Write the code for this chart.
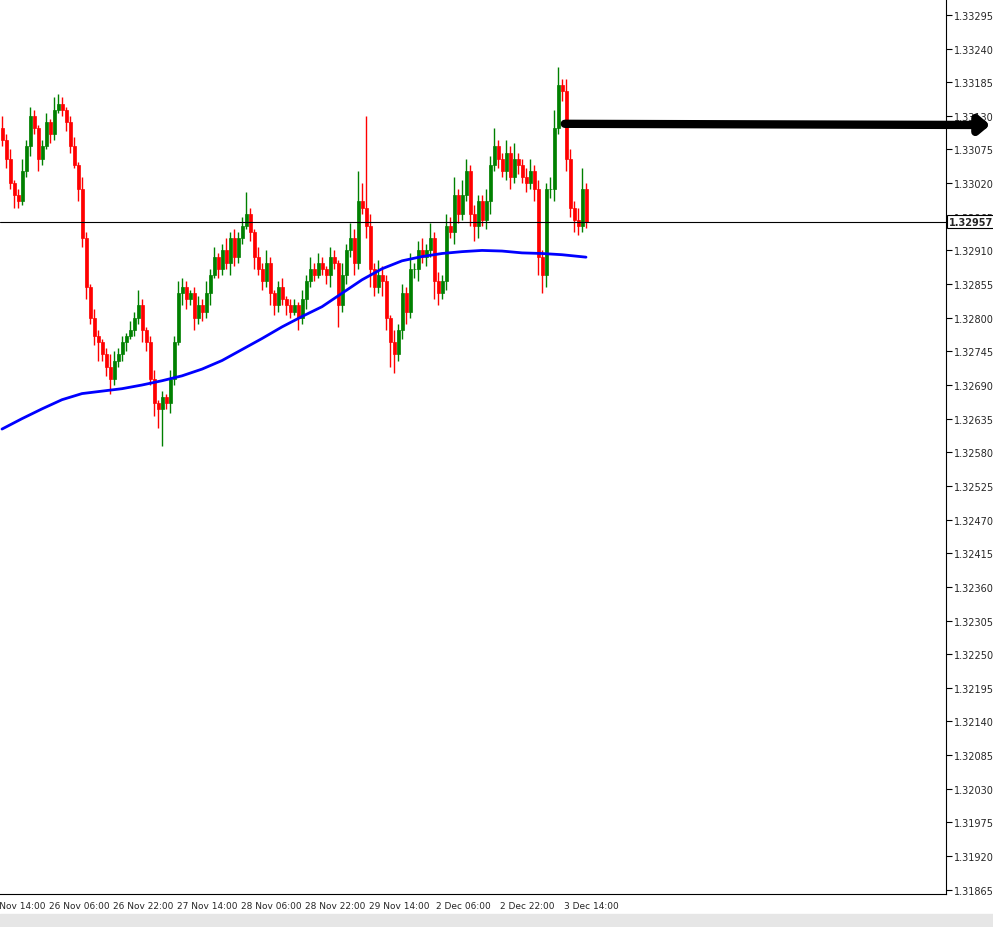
import numpy as np, pandas as pd, seaborn as sns, matplotlib
matplotlib.use("Agg")
import matplotlib.pyplot as plt

closes = [1.33090,1.33060,1.33020,1.33000,1.32990,1.33040,1.33080,1.33130,1.33110,1.33060,
1.33080,1.33120,1.33100,1.33140,1.33150,1.33140,1.33120,1.33080,1.33050,1.33010,
1.32930,1.32850,1.32800,1.32770,1.32760,1.32740,1.32720,1.32700,1.32730,1.32740,
1.32760,1.32770,1.32780,1.32800,1.32820,1.32780,1.32760,1.32700,1.32660,1.32650,
1.32670,1.32660,1.32700,1.32760,1.32840,1.32850,1.32830,1.32840,1.32800,1.32820,
1.32810,1.32840,1.32870,1.32900,1.32880,1.32910,1.32890,1.32930,1.32900,1.32930,
1.32950,1.32970,1.32940,1.32900,1.32880,1.32860,1.32890,1.32840,1.32820,1.32850,
1.32830,1.32820,1.32810,1.32820,1.32800,1.32830,1.32860,1.32880,1.32870,1.32890,
1.32880,1.32870,1.32900,1.32890,1.32820,1.32870,1.32910,1.32930,1.32890,1.32990,
1.32980,1.32950,1.32880,1.32850,1.32870,1.32860,1.32800,1.32760,1.32740,1.32780,
1.32840,1.32810,1.32880,1.32880,1.32910,1.32900,1.32910,1.32930,1.32860,1.32840,
1.32860,1.32950,1.32940,1.33000,1.32970,1.33000,1.33040,1.32970,1.32950,1.32990,
1.32960,1.32990,1.33050,1.33080,1.33060,1.33040,1.33070,1.33030,1.33060,1.33050,
1.33030,1.33020,1.33040,1.33010,1.32900,1.32870,1.33010,1.33010,1.33110,1.33180,
1.33170,1.33060,1.32980,1.32960,1.32950,1.33010,1.32957]
open0 = 1.33110
# wick extents in points (1e-5)
wick_up = [20,10,15,5,10,20,10,15,10,5, 10,15,5,20,15,10,5,10,15,5, 20,10,5,15,10,5,10,20,15,10,
 10,5,15,10,25,10,5,10,15,5, 10,5,15,10,20,15,10,5,10,15, 10,20,10,15,5,10,20,10,15,10,
 15,35,10,5,15,10,20,10,5,10, 15,5,10,10,5,15,10,20,10,15, 10,5,15,10,5,20,10,25,15,50,
 30,150,20,10,25,15,10,5,20,10, 15,10,25,10,15,20,10,25,10,15, 10,20,15,30,10,25,20,10,15,10,
 10,20,15,30,10,10,20,10,25,10, 10,15,20,10,15,10,10,20,30,30, 10,20,15,10,20,35,10]
wick_dn = [10,15,10,20,10,5,10,15,10,20, 10,5,15,10,5,10,15,10,5,20, 15,20,10,15,30,10,15,25,10,10,
 10,15,5,10,10,20,15,10,20,30, 60,10,15,10,5,20,15,10,20,10, 15,10,20,5,15,10,10,20,15,10,
 10,5,15,20,10,15,10,20,15,10, 10,15,10,5,20,10,15,10,10,5, 10,15,20,10,35,10,15,10,20,10,
 10,20,30,15,10,25,20,40,30,10, 15,20,10,15,20,10,15,10,30,20, 10,15,10,20,15,10,10,20,25,20,
 10,15,20,10,15,10,15,20,10,15, 10,15,10,20,30,30,20,15,20,10, 15,20,15,20,15,10,10]
ma_idx = [0,5,10,15,20,25,30,35,40,45,50,55,60,65,70,75,80,85,90,95,100,105,110,115,120,125,130,135,140,146]
ma_val = [1.32618,1.32635,1.32651,1.32666,1.32676,1.32680,1.32684,1.32690,1.32697,1.32705,
          1.32716,1.32730,1.32748,1.32766,1.32785,1.32802,1.32818,1.32840,1.32862,1.32880,
          1.32893,1.32900,1.32905,1.32908,1.32910,1.32909,1.32906,1.32905,1.32903,1.32899]
ytick_vals = [1.33295,1.33240,1.33185,1.33130,1.33075,1.33020,1.32965,1.32910,1.32855,1.32800,
 1.32745,1.32690,1.32635,1.32580,1.32525,1.32470,1.32415,1.32360,1.32305,1.32250,1.32195,
 1.32140,1.32085,1.32030,1.31975,1.31920,1.31865]
xtick_labels = ["25 Nov 14:00","26 Nov 06:00","26 Nov 22:00","27 Nov 14:00","28 Nov 06:00",
 "28 Nov 22:00","29 Nov 14:00","2 Dec 06:00","2 Dec 22:00","3 Dec 14:00"]
current = 1.32957
arrow_price = 1.33115

n = len(closes)
opens = [open0] + closes[:-1]
df = pd.DataFrame({"i": np.arange(n), "o": opens, "c": closes})
df["h"] = df[["o","c"]].max(axis=1) + np.array(wick_up[:n])*1e-5
df["l"] = df[["o","c"]].min(axis=1) - np.array(wick_dn[:n])*1e-5
df["col"] = np.where(df.c >= df.o, "#008000", "#ff0000")

sns.set_style("white")
fig = plt.figure(figsize=(9.93, 9.28), dpi=100)
ax = fig.add_axes([0, 1-895/928, 946/993, 895/928])
ax.vlines(df.i, df.l, df.h, colors=df.col, lw=1)
ax.bar(df.i, (df.c-df.o).abs().clip(lower=1e-6), bottom=df[["o","c"]].min(axis=1),
       width=0.75, color=df.col, edgecolor=df.col, lw=0.5)
sns.lineplot(x=ma_idx, y=ma_val, ax=ax, color="#0000ff", lw=2)
ax.axhline(current, color="black", lw=0.8)
ax.annotate("", xy=(1.0, arrow_price), xycoords=("figure fraction", "data"),
            xytext=(140, arrow_price+0.00002), textcoords="data",
            arrowprops=dict(arrowstyle="-|>,head_width=0.5,head_length=0.6", lw=6, color="black"),
            annotation_clip=False)
ax.set_xlim(-0.5, 236)
ax.set_ylim(1.31858, 1.33321)
ax.yaxis.tick_right()
ax.set_yticks(ytick_vals)
ax.set_yticklabels([f"{v:.5f}" for v in ytick_vals], fontsize=7)
ax.set_xticks([3.25+16*k for k in range(len(xtick_labels))])
ax.set_xticklabels(xtick_labels, fontsize=6.5)
ax.tick_params(axis="both", length=4, width=0.8, direction="out", pad=2, color="black")
ax.tick_params(axis="x", length=3)
for s in ["left","top"]:
    ax.spines[s].set_visible(False)
for s in ["right","bottom"]:
    ax.spines[s].set_color("black"); ax.spines[s].set_linewidth(0.8)
ax.text(1.003, current, f"{current:.5f}", transform=ax.get_yaxis_transform(), fontsize=7,
        va="center", ha="left", fontweight="bold",
        bbox=dict(boxstyle="square,pad=0.15", fc="white", ec="black", lw=0.8))
fig.patches.append(plt.Rectangle((0, 0), 1, 13/928, transform=fig.transFigure, color="#e6e6e6"))
fig.savefig("out.png", dpi=100)
